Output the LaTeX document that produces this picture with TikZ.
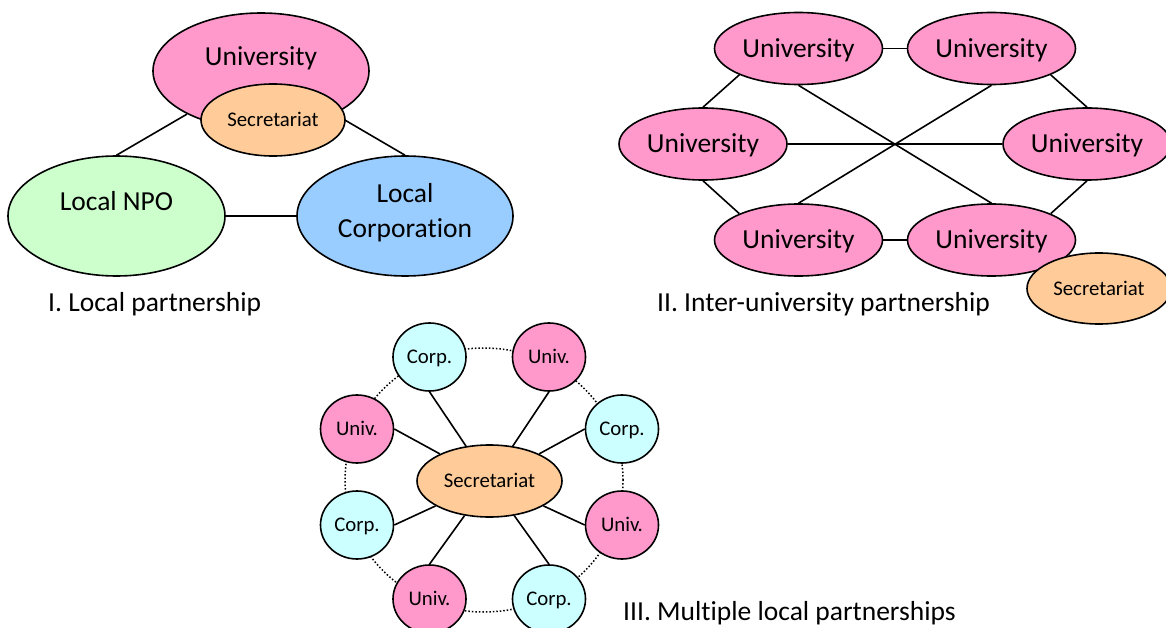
\documentclass[tikz,border=0pt]{standalone}
\usepackage{fontspec}
\setmainfont{Carlito}[Ligatures=NoCommon]
\usetikzlibrary{shapes.geometric,backgrounds}
\definecolor{univ}{HTML}{FF99CC}
\definecolor{secr}{HTML}{FFCC99}
\definecolor{npo}{HTML}{CCFFCC}
\definecolor{corpb}{HTML}{99CCFF}
\definecolor{corpc}{HTML}{CCFFFF}
\begin{document}
\begin{tikzpicture}[x=1pt,y=-1pt,
  ell/.style={ellipse,draw=black,line width=1.6pt,inner sep=0pt},
  bigfont/.style={font=\fontsize{27.5}{35}\selectfont,text height=17.4pt,text depth=0pt},
  smallfont/.style={font=\fontsize{20.8}{25}\selectfont,text height=13.2pt,text depth=0pt},
  bigtxt/.style={bigfont,inner sep=0pt},
  uni2/.style={ell,fill=univ,minimum width=168,minimum height=72,bigfont},
  secr/.style={ell,fill=secr,smallfont},
  circ/.style={ell,minimum width=73,minimum height=68,smallfont},
  link/.style={line width=1.6pt},
  ring/.style={ellipse,draw=black,line width=1.5pt,dash pattern=on 1.5pt off 2pt,inner sep=0pt}
]
\useasboundingbox (0,0) rectangle (1166,628);

% ---------- I. Local partnership ----------
\node[ell,fill=univ,minimum width=216,minimum height=116] (u1) at (261,71) {};
\node[bigtxt] (u1t) at (261,57) {University};
\node[ell,fill=npo,minimum width=217,minimum height=120] (npo) at (116.5,216) {};
\node[bigtxt] (npot) at (116.5,201.5) {Local NPO};
\node[ell,fill=corpb,minimum width=216,minimum height=120] (lc) at (405,216) {};
\node[bigtxt] (lct1) at (405,194.3) {Local};
\node[bigtxt] (lct2) at (405,228.3) {Corporation};
\node[secr,minimum width=144,minimum height=72] (s1) at (273,120) {Secretariat};
\node[bigtxt,anchor=west] (cap1) at (48,302.5) {I. Local partnership};

% ---------- II. Inter-university partnership ----------
\node[uni2] (tl) at (798.5,48.5) {University};
\node[uni2] (tr) at (991.5,48.5) {University};
\node[uni2] (ml) at (703,144) {University};
\node[uni2] (mr) at (1087,144) {University};
\node[uni2] (bl) at (798.5,240) {University};
\node[uni2] (br) at (991.5,240) {University};
\node[secr,minimum width=144,minimum height=71] (s2) at (1099,288.5) {Secretariat};
\node[bigtxt,anchor=west] (cap2) at (657,302.5) {II. Inter-university partnership};

% ---------- III. Multiple local partnerships ----------
\node[ring,minimum width=278,minimum height=264] (rg) at (484,480) {};
\node[circ,fill=corpc] (c1) at (429.5,357) {Corp.};
\node[circ,fill=univ] (c2) at (549,357) {Univ.};
\node[circ,fill=corpc] (c3) at (622,429) {Corp.};
\node[circ,fill=univ] (c4) at (622,525) {Univ.};
\node[circ,fill=corpc] (c5) at (549,599) {Corp.};
\node[circ,fill=univ] (c6) at (429.5,599) {Univ.};
\node[circ,fill=corpc] (c7) at (357,525) {Corp.};
\node[circ,fill=univ] (c8) at (357,429) {Univ.};
\node[secr,minimum width=145,minimum height=72] (s3) at (489.5,481) {Secretariat};
\node[bigtxt,anchor=west] (cap3) at (623,612) {III. Multiple local partnerships};

% ---------- connectors (behind the shapes) ----------
\begin{pgfonlayer}{background}
\draw[link] (npo.north) -- (u1);
\draw[link] (lc.north) -- (u1);
\draw[link] (npo.east) -- (lc.west);

\draw[link] (tl.east) -- (tr.west);
\draw[link] (bl.east) -- (br.west);
\draw[link] (ml.east) -- (mr.west);
\draw[link] (tl.south) -- (br.north);
\draw[link] (tr.south) -- (bl.north);
\draw[link] (tl.204) -- (ml.north);
\draw[link] (tr.336) -- (mr.north);
\draw[link] (ml.south) -- (bl.156);
\draw[link] (mr.south) -- (br.24);

\draw[link] (c1.south) -- (s3);
\draw[link] (c2.south) -- (s3);
\draw[link] (c3.west) -- (s3);
\draw[link] (c4.west) -- (s3);
\draw[link] (c5.north) -- (s3);
\draw[link] (c6.north) -- (s3);
\draw[link] (c7.east) -- (s3);
\draw[link] (c8.east) -- (s3);
\end{pgfonlayer}
\end{tikzpicture}
\end{document}
